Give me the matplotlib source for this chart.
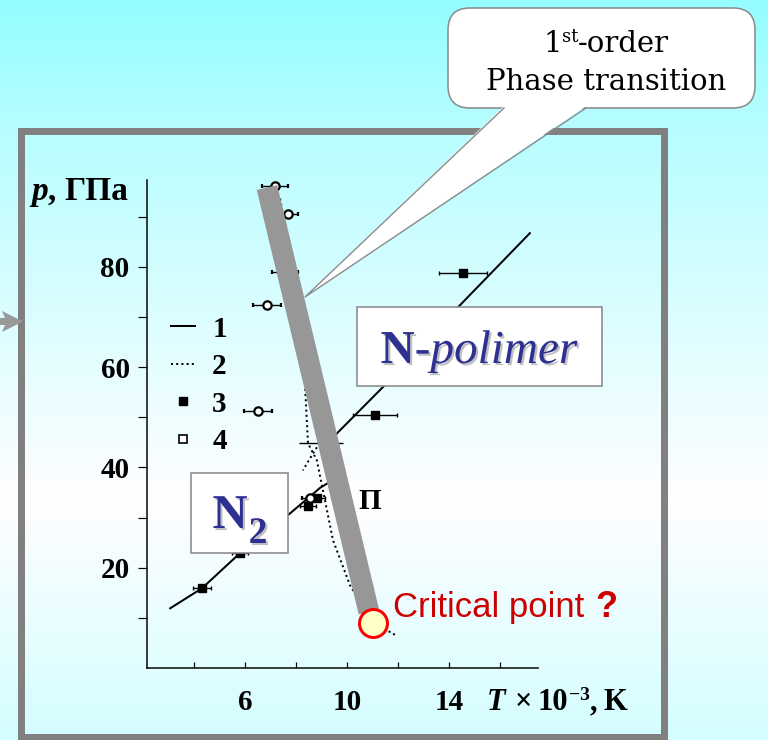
import matplotlib
matplotlib.use("Agg")
import matplotlib.pyplot as plt
import numpy as np
from matplotlib import patheffects
from matplotlib.lines import Line2D
from matplotlib.patches import FancyBboxPatch, Polygon, Rectangle

W, H = 768, 740

# curve 1: melting line, T in 10^3 K, p in GPa
t_melt = [3.06, 4.31, 5.80, 7.69, 8.94, 9.45, 9.41, 9.61, 11.41, 14.43, 17.18]
p_melt = [11.9, 15.9, 22.9, 30.5, 35.9, 37.5, 45.4, 46.8, 56.0, 72.3, 86.7]

# curve 2: calculated boundary (dotted) and its short branch
t_calc = [7.37, 8.16, 8.35, 8.47, 8.82, 9.45, 10.12, 10.98, 11.96]
p_calc = [93.6, 73.3, 56.8, 44.8, 41.4, 25.5, 16.5, 9.2, 6.4]
t_calc_branch = [8.82, 8.55, 8.27]
p_calc_branch = [44.0, 41.8, 39.4]

# series 3: filled squares
t_exp3 = [4.31, 5.80, 8.47, 8.82, 11.10, 14.55]
p_exp3 = [15.9, 22.9, 32.3, 33.9, 50.4, 78.7]
dt_exp3 = [0.35, 0.30, 0.30, 0.30, 0.85, 0.95]

# series 4: open circles
t_exp4 = [7.18, 7.69, 7.57, 6.86, 6.51, 8.55]
p_exp4 = [96.2, 90.6, 78.9, 72.3, 51.2, 33.9]
dt_exp4 = [0.50, 0.40, 0.50, 0.55, 0.55, 0.30]

# point drawn with error cross only
t_cross = [8.98]
p_cross = [44.8]
dt_cross = [0.85]
dp_cross = [1.3]

# suggested first-order boundary and its end point
t_boundary = [6.86, 10.86]
p_boundary = [95.8, 11.2]
t_crit = [11.02]
p_crit = [9.0]

x_ticks = [4, 6, 8, 10, 12, 14, 16]
x_ticklabels = ["", "6", "", "10", "", "14", ""]
y_ticks = [10, 20, 30, 40, 50, 60, 70, 80, 90]
y_ticklabels = ["", "20", "", "40", "", "60", "", "80", ""]
legend_labels = ["1", "2", "3", "4"]

SERIF = "Liberation Serif"
BLUE = "#2e3192"
PX = 72 / 100  # points per pixel at dpi 100

fig = plt.figure(figsize=(W / 100, H / 100), dpi=100)

# slide background
ax_bg = fig.add_axes([0, 0, 1, 1], zorder=0)
ys = np.linspace(0, H, 400)
red = np.interp(ys, [0, 130, 500, 740], [0.58, 0.72, 1.0, 0.83])
grad = np.dstack([red, np.full_like(red, 0.995), np.ones_like(red)]).reshape(-1, 1, 3)
ax_bg.imshow(grad, extent=[0, W, H, 0], aspect="auto")
ax_bg.set_xlim(0, W)
ax_bg.set_ylim(H, 0)
ax_bg.axis("off")

# phase diagram
ax = fig.add_axes([147 / W, 1 - 668 / H, (538 - 147) / W, (668 - 180) / H], zorder=1)
ax.set_facecolor("none")
ax.set_xlim(2.15, 17.5)
ax.set_ylim(0, 97.3)
for side in ("top", "right"):
    ax.spines[side].set_visible(False)
for side in ("left", "bottom"):
    ax.spines[side].set_linewidth(1.6 * PX)
    ax.spines[side].set_color("#111111")

tick_font = dict(family=SERIF, weight="bold", size=21)
ax.set_xticks(x_ticks)
ax.set_xticklabels(x_ticklabels, fontdict=tick_font)
ax.set_yticks(y_ticks)
ax.set_yticklabels(y_ticklabels, fontdict=tick_font)
ax.tick_params(axis="x", direction="in", length=6 * PX, width=1.2 * PX, pad=15)
ax.tick_params(axis="y", direction="out", length=9 * PX, width=1.2 * PX, pad=6)

ax.plot(t_melt, p_melt, color="black", lw=2.0 * PX, zorder=2)
ax.plot(t_calc, p_calc, color="black", lw=2.0 * PX, ls=(0, (1, 1.6)), zorder=2)
ax.plot(t_calc_branch, p_calc_branch, color="black", lw=2.0 * PX, ls=(0, (1, 1.6)), zorder=2)

ax.errorbar(t_exp3, p_exp3, xerr=dt_exp3, fmt="s", color="black", ms=6, capsize=1.5,
            elinewidth=1.4 * PX, zorder=3)
ax.errorbar(t_exp4, p_exp4, xerr=dt_exp4, fmt="o", color="black", mfc="white", ms=6,
            mew=1.6, capsize=1.5, elinewidth=1.4 * PX, zorder=3)
ax.errorbar(t_cross, p_cross, xerr=dt_cross, yerr=dp_cross, fmt="none", ecolor="black",
            elinewidth=1.4 * PX, zorder=3)

ax.text(10.9, 33.1, "П", ha="center", va="center", family=SERIF, weight="bold", size=21)

handles = [
    Line2D([], [], color="black", lw=2.0 * PX),
    Line2D([], [], color="black", lw=2.0 * PX, ls=(0, (1, 1.6))),
    Line2D([], [], color="black", marker="s", ls="none", ms=6),
    Line2D([], [], color="black", marker="s", mfc="white", ls="none", ms=6, mew=1.2),
]
ax.legend(handles, legend_labels, loc="upper left", bbox_to_anchor=(0.025, 0.752),
          frameon=False, borderpad=0, handlelength=0.8, handletextpad=0.6,
          labelspacing=0.36, prop=dict(family=SERIF, weight="bold", size=21))

# gray bar for the first-order boundary, ending at the critical point
ax.plot(t_boundary, p_boundary, color="#979797", lw=21 * PX, solid_capstyle="butt",
        zorder=4, clip_on=False)
ax.plot(t_crit, p_crit, "o", ms=28 * PX, mfc="#ffffc8", mec="#ff0000", mew=3 * PX,
        zorder=5, clip_on=False)

# overlay in pixel coordinates
ov = fig.add_axes([0, 0, 1, 1], zorder=2)
ov.set_facecolor("none")
ov.set_xlim(0, W)
ov.set_ylim(H, 0)
ov.axis("off")

renderer = fig.canvas.get_renderer()


def text_run(x, y, pieces, ha="left", **common):
    """Place text pieces one after another on a shared baseline."""
    items = []
    for s, kw in pieces:
        kw = dict(kw)
        dy = kw.pop("dy", 0)
        gap = kw.pop("gap", 0)
        t = ov.text(0, y + dy, s, ha="left", va="baseline", **{**common, **kw})
        items.append((t, gap, t.get_window_extent(renderer).width))
    total = sum(g + w for _, g, w in items)
    x0 = x - total / 2 if ha == "center" else x
    for t, g, w in items:
        x0 += g
        t.set_x(x0)
        x0 += w


# frame around the diagram
ov.add_patch(Rectangle((21, 130.5), 642.5, 606.5, fill=False, ec="#808080", lw=7 * PX))
ov.add_patch(Polygon([(0, 318), (5, 318), (2, 311), (23, 321.5), (2, 332), (5, 325), (0, 325)],
                     closed=True, fc="#999999", ec="none"))

# axis captions
text_run(31, 200, [("p", dict(style="italic")), (",", {}), ("ГПа", dict(gap=8))],
         family=SERIF, weight="bold", size=24)
text_run(487, 710, [("T", dict(style="italic")), ("×", dict(gap=9)), ("10", dict(gap=6)),
                    ("−3", dict(size=14, dy=-10)), (",", {}), ("K", dict(gap=7))],
         family=SERIF, weight="bold", size=22)

# callout
ov.add_patch(FancyBboxPatch((448, 8), 307, 100, boxstyle="round,pad=0,rounding_size=22",
                            fc="white", ec="#8c8c8c", lw=1.6 * PX, zorder=3))
ov.add_patch(Polygon([(504, 106), (586, 106), (305, 297)], closed=True, fc="white",
                     ec="none", zorder=4))
ov.plot([504, 305, 586], [108, 297, 108], color="#8c8c8c", lw=1.4 * PX, zorder=5)
text_run(606, 52, [("1", {}), ("st", dict(size=13, dy=-10)), ("-order", {})], ha="center",
         family="DejaVu Serif", size=21, zorder=6)
text_run(606, 90, [("Phase transition", {})], ha="center", family="DejaVu Serif", size=21,
         zorder=6)

# phase labels
shadow = [patheffects.SimplePatchShadow(offset=(1.5, -1.5), shadow_rgbFace="#b8b8b8", alpha=0.9),
          patheffects.Normal()]
ov.add_patch(Rectangle((357, 307), 245, 79, fc="white", ec="#8a8a8a", lw=1.6 * PX, zorder=3))
text_run(479, 363, [("N", dict(weight="bold")), ("-polimer", dict(style="italic"))], ha="center",
         family=SERIF, size=34, color=BLUE, zorder=6, path_effects=shadow)
ov.add_patch(Rectangle((191, 473), 97, 80, fc="white", ec="#8a8a8a", lw=1.6 * PX, zorder=3))
text_run(240, 528, [("N", {}), ("2", dict(size=27, dy=15, gap=1))], ha="center",
         family=SERIF, weight="bold", size=35, color=BLUE, zorder=6, path_effects=shadow)

# critical point caption
ov.text(393, 617, "Critical point", ha="left", va="baseline", family="Liberation Sans",
        size=25, color="#cc0000")
ov.text(595, 617, "?", ha="left", va="baseline", family="Liberation Sans", weight="bold",
        size=26, color="#cc0000")

fig.savefig("out.png", dpi=100)
